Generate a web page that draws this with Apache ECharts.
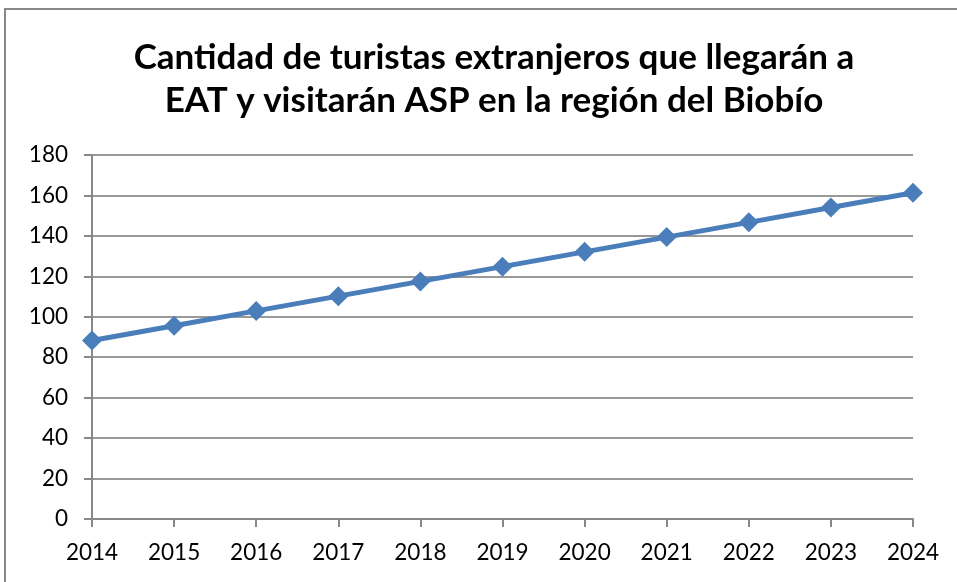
<!DOCTYPE html>
<html>
<head>
<meta charset="utf-8">
<script src="https://cdn.jsdelivr.net/npm/echarts@6/dist/echarts.min.js"></script>
<style>
  html, body { margin: 0; padding: 0; background: #fff; }
  #chart { width: 957px; height: 582px; }
</style>
</head>
<body>
<div id="chart"></div>
<script>
var years = ["2014", "2015", "2016", "2017", "2018", "2019", "2020", "2021", "2022", "2023", "2024"];
var turistas = [88.3, 95.6, 102.9, 110.2, 117.5, 124.8, 132.1, 139.4, 146.7, 154.0, 161.3];
var titleText = "Cantidad de turistas extranjeros que llegarán a\nEAT y visitarán ASP en la región del Biobío";

var myChart = echarts.init(document.getElementById("chart"));
var option = {
  animation: false,
  backgroundColor: "#fff",
  graphic: [
    {
      type: "rect",
      shape: { x: 5, y: 9, width: 1000, height: 700 },
      style: { fill: "none", stroke: "#888", lineWidth: 2 },
      silent: true
    }
  ],
  title: {
    text: titleText,
    left: 489,
    top: 31,
    textAlign: "center",
    textStyle: {
      fontFamily: "Lato",
      fontWeight: "bold",
      fontSize: 35,
      lineHeight: 43,
      color: "#000"
    }
  },
  grid: { left: 92, right: 44, top: 155, bottom: 63 },
  xAxis: {
    type: "category",
    data: years,
    boundaryGap: false,
    axisLine: { lineStyle: { color: "#888", width: 2 } },
    axisTick: { show: true, length: 8, lineStyle: { color: "#888", width: 2 } },
    axisLabel: { color: "#000", fontFamily: "Lato", fontSize: 22.5, margin: 22 },
    splitLine: { show: false }
  },
  yAxis: {
    type: "value",
    min: 0,
    max: 180,
    interval: 20,
    axisLine: { show: true, lineStyle: { color: "#888", width: 2 } },
    axisTick: { show: true, length: 8, lineStyle: { color: "#888", width: 2 } },
    axisLabel: { color: "#000", fontFamily: "Lato", fontSize: 22.5, margin: 24 },
    splitLine: { show: true, lineStyle: { color: "#999", width: 2 } }
  },
  series: [
    {
      name: "Turistas",
      type: "line",
      data: turistas,
      symbol: "diamond",
      symbolSize: 20,
      lineStyle: { color: "#4a7ebb", width: 5 },
      itemStyle: { color: "#4a7ebb" }
    }
  ]
};
myChart.setOption(option);
</script>
</body>
</html>
